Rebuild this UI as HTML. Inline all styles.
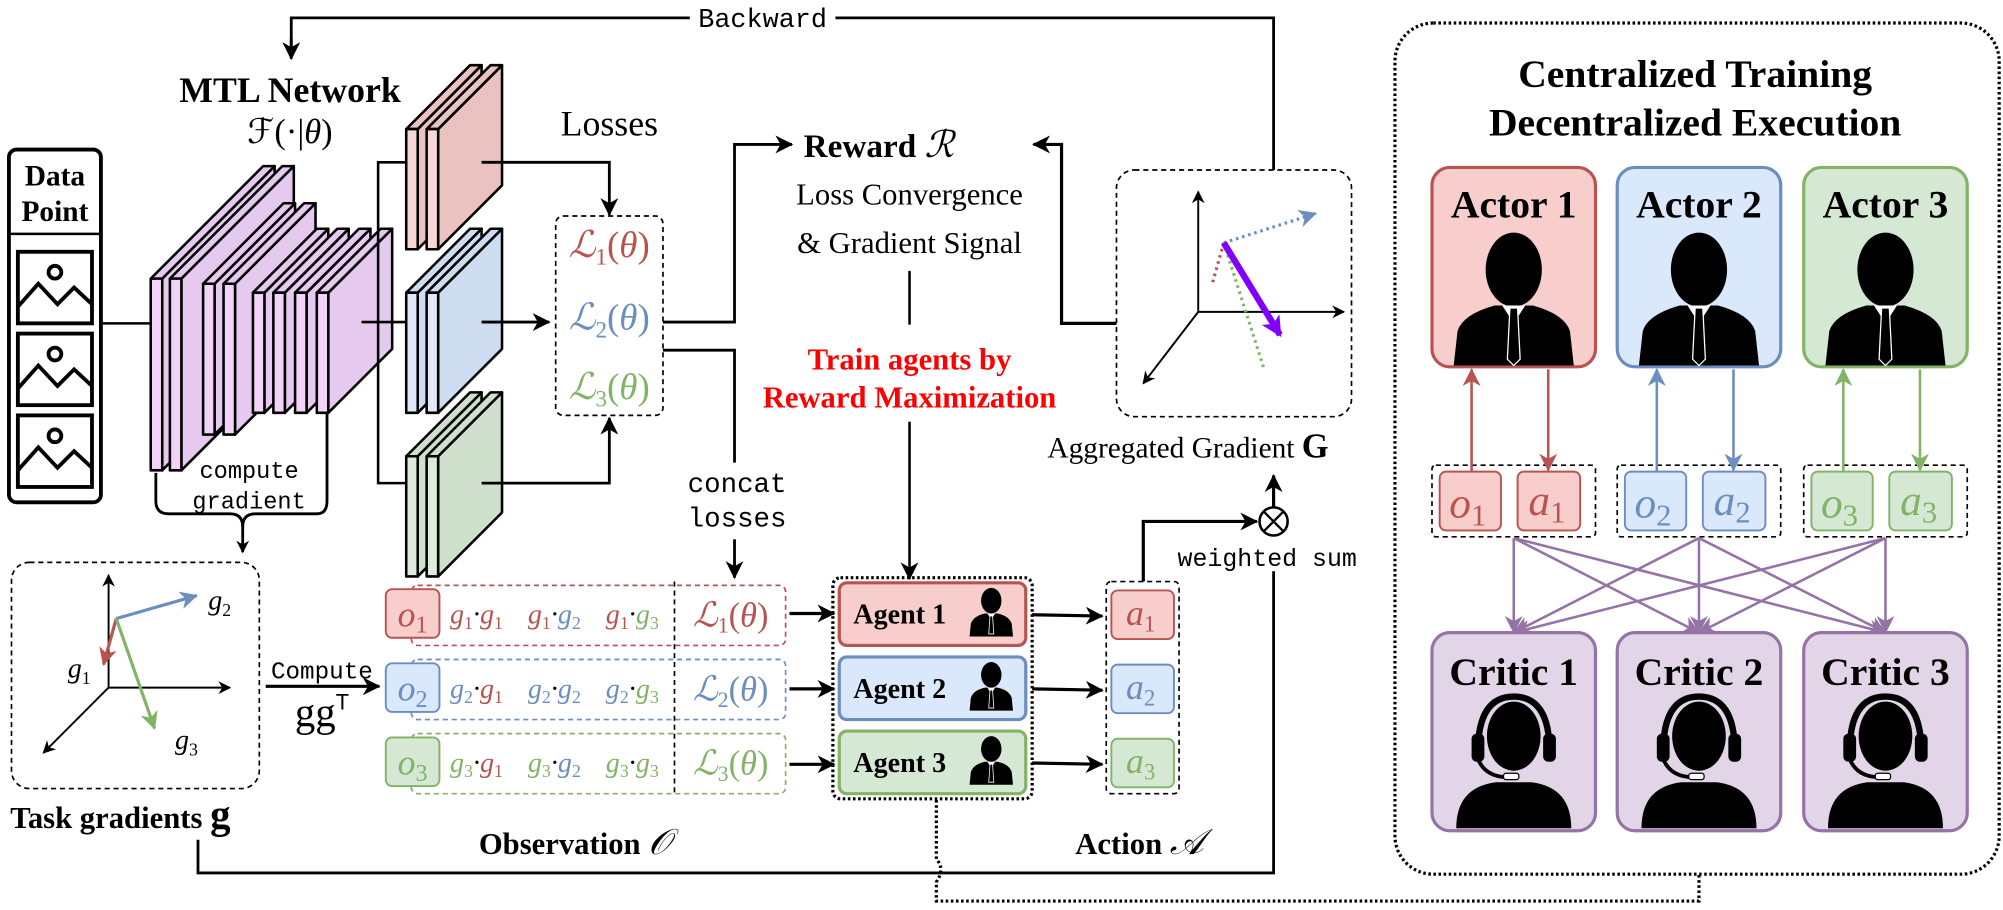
<!DOCTYPE html>
<html><head><meta charset="utf-8"><style>
html,body{margin:0;padding:0;background:#fff;}
svg{display:block;}
text{font-family:"Liberation Serif",serif;}
.m{font-family:"Liberation Mono",monospace;}
.b{font-weight:bold;}
</style></head><body>
<svg width="2003" height="910" viewBox="0 0 1568 712" preserveAspectRatio="none" xmlns="http://www.w3.org/2000/svg">
<defs>
<marker id="ak" markerWidth="10" markerHeight="10" refX="9" refY="5" orient="auto" markerUnits="userSpaceOnUse"><path d="M0,0 L10,5 L0,10 L3,5 Z" fill="#000"/></marker>
<marker id="ak2" markerWidth="14" markerHeight="14" refX="13" refY="7" orient="auto" markerUnits="userSpaceOnUse"><path d="M0,0 L14,7 L0,14 L4,7 Z" fill="#000"/></marker>
<marker id="ar" markerWidth="14" markerHeight="14" refX="13" refY="7" orient="auto" markerUnits="userSpaceOnUse"><path d="M0,0 L14,7 L0,14 L4,7 Z" fill="#b85450"/></marker>
<marker id="ab" markerWidth="14" markerHeight="14" refX="13" refY="7" orient="auto" markerUnits="userSpaceOnUse"><path d="M0,0 L14,7 L0,14 L4,7 Z" fill="#6c8ebf"/></marker>
<marker id="ag" markerWidth="14" markerHeight="14" refX="13" refY="7" orient="auto" markerUnits="userSpaceOnUse"><path d="M0,0 L14,7 L0,14 L4,7 Z" fill="#82b366"/></marker>
<marker id="ap" markerWidth="14" markerHeight="14" refX="13" refY="7" orient="auto" markerUnits="userSpaceOnUse"><path d="M0,0 L14,7 L0,14 L4,7 Z" fill="#9673a6"/></marker>
<marker id="av" markerWidth="16" markerHeight="16" refX="14" refY="8" orient="auto" markerUnits="userSpaceOnUse"><path d="M0,0 L16,8 L0,16 L4,8 Z" fill="#7f00ff"/></marker>
<g id="actor"><ellipse cx="0" cy="0" rx="22" ry="29" fill="#000"/><path d="M-47,75 L-44,48 Q-40,35 -15,28 L15,28 Q40,35 44,48 L47,75 Z" fill="#000"/><path d="M-9,28 L0,42 L9,28 Z" fill="#fff"/><path d="M-3,30 L3,30 L5,70 L0,75 L-5,70 Z" fill="#000" stroke="#fff" stroke-width="1"/></g>
<g id="critic"><path d="M-28,10 Q-28,-33 0,-33 Q28,-33 28,10" fill="none" stroke="#000" stroke-width="5"/><ellipse cx="0" cy="-2" rx="21" ry="27" fill="#000"/><rect x="-33" y="-4" width="10" height="22" rx="4" fill="#000"/><rect x="23" y="-4" width="10" height="22" rx="4" fill="#000"/><path d="M-28,16 Q-22,30 -5,30" fill="none" stroke="#000" stroke-width="3"/><rect x="-8" y="27" width="12" height="5" rx="2" fill="#fff" stroke="#000"/><path d="M-45,70 Q-45,38 -14,34 L14,34 Q45,38 45,70 Z" fill="#000"/></g>
<g id="sm"><ellipse cx="0" cy="0" rx="8" ry="10" fill="#000"/><path d="M-17,28 L-16,18 Q-14,12 -5,10 L5,10 Q14,12 16,18 L17,28 Z" fill="#000"/><path d="M-3,10 L0,15 L3,10 Z" fill="#fff"/><path d="M-1,12 L1,12 L2,26 L-2,26 Z" fill="#000" stroke="#fff" stroke-width="0.6"/></g>
</defs>

<!-- Backward loop -->
<polyline points="228,45 228,14 997,14 997,133" fill="none" stroke="#000" stroke-width="2.2"/>
<rect x="540" y="3" width="114" height="22" fill="#fff"/>
<text x="597" y="21" class="m" font-size="21" text-anchor="middle">Backward</text>
<polyline points="228,30 228,46" fill="none" stroke="#000" stroke-width="2.2" marker-end="url(#ak2)"/>

<text x="227" y="80" class="b" font-size="28" text-anchor="middle">MTL Network</text>
<text x="227" y="112" font-size="27" text-anchor="middle">ℱ(·|<tspan font-style="italic">θ</tspan>)</text>

<!-- Data point -->
<rect x="7" y="117" width="72" height="276" rx="6" fill="#fff" stroke="#000" stroke-width="3"/>
<line x1="7" y1="183" x2="79" y2="183" stroke="#000" stroke-width="2"/>
<text x="43" y="145" class="b" font-size="23" text-anchor="middle">Data</text>
<text x="43" y="173" class="b" font-size="23" text-anchor="middle">Point</text>
<g fill="none" stroke="#000" stroke-width="3">
<rect x="14" y="197" width="58" height="56"/><path d="M14,240 L30,222 L45,238 L58,225 L72,238"/><circle cx="43" cy="213" r="5"/>
<rect x="14" y="261" width="58" height="56"/><path d="M14,304 L30,286 L45,302 L58,289 L72,302"/><circle cx="43" cy="277" r="5"/>
<rect x="14" y="325" width="58" height="56"/><path d="M14,368 L30,350 L45,366 L58,353 L72,366"/><circle cx="43" cy="341" r="5"/>
</g>
<line x1="79" y1="253" x2="118" y2="253" stroke="#000" stroke-width="2"/>

<!-- Network slabs -->
<g stroke="#000" stroke-width="2" stroke-linejoin="round">
<g fill="#e6c9ee">
<polygon points="127,218 215,130 215,280 127,368"/><polygon points="118,218 206,130 215,130 127,218"/><rect x="118" y="218" width="9" height="150" fill="#f3d3f7"/>
<polygon points="142,218 230,130 230,280 142,368"/><polygon points="133,218 221,130 230,130 142,218"/><rect x="133" y="218" width="9" height="150" fill="#f3d3f7"/>
<polygon points="168,222 231,159 231,277 168,340"/><polygon points="159,222 222,159 231,159 168,222"/><rect x="159" y="222" width="9" height="118" fill="#f3d3f7"/>
<polygon points="184,222 247,159 247,277 184,340"/><polygon points="175,222 238,159 247,159 184,222"/><rect x="175" y="222" width="9" height="118" fill="#f3d3f7"/>
<polygon points="207,229 257,179 257,273 207,323"/><polygon points="198,229 248,179 257,179 207,229"/><rect x="198" y="229" width="9" height="94" fill="#f3d3f7"/>
<polygon points="223,229 273,179 273,273 223,323"/><polygon points="214,229 264,179 273,179 223,229"/><rect x="214" y="229" width="9" height="94" fill="#f3d3f7"/>
<polygon points="240,229 290,179 290,273 240,323"/><polygon points="231,229 281,179 290,179 240,229"/><rect x="231" y="229" width="9" height="94" fill="#f3d3f7"/>
<polygon points="257,229 307,179 307,273 257,323"/><polygon points="248,229 298,179 307,179 257,229"/><rect x="248" y="229" width="9" height="94" fill="#f3d3f7"/>
</g>
</g>
<!-- network to heads -->
<polyline points="283,252 296,252" fill="none" stroke="#000" stroke-width="2"/>
<polyline points="318,127 296,127 296,378 318,378" fill="none" stroke="#000" stroke-width="2"/>
<line x1="296" y1="252" x2="318" y2="252" stroke="#000" stroke-width="2"/>
<g stroke="#000" stroke-width="2" stroke-linejoin="round">
<g fill="#eac3c1">
<polygon points="327,101 377,51 377,145 327,195"/><polygon points="318,101 368,51 377,51 327,101"/><rect x="318" y="101" width="9" height="94" fill="#f5d7d5"/>
<polygon points="343,101 393,51 393,145 343,195"/><polygon points="334,101 384,51 393,51 343,101"/><rect x="334" y="101" width="9" height="94" fill="#f5d7d5"/>
</g>
<g fill="#cddcef">
<polygon points="327,229 377,179 377,273 327,323"/><polygon points="318,229 368,179 377,179 327,229"/><rect x="318" y="229" width="9" height="94" fill="#dfe9f8"/>
<polygon points="343,229 393,179 393,273 343,323"/><polygon points="334,229 384,179 393,179 343,229"/><rect x="334" y="229" width="9" height="94" fill="#dfe9f8"/>
</g>
<g fill="#cfe0cc">
<polygon points="327,357 377,307 377,401 327,451"/><polygon points="318,357 368,307 377,307 327,357"/><rect x="318" y="357" width="9" height="94" fill="#ddecda"/>
<polygon points="343,357 393,307 393,401 343,451"/><polygon points="334,357 384,307 393,307 343,357"/><rect x="334" y="357" width="9" height="94" fill="#ddecda"/>
</g>
</g>
<!-- heads to losses -->
<polyline points="377,127 477,127 477,168" fill="none" stroke="#000" stroke-width="2.2" marker-end="url(#ak2)"/>
<polyline points="377,252 430,252" fill="none" stroke="#000" stroke-width="2.2" marker-end="url(#ak2)"/>
<polyline points="377,378 477,378 477,327" fill="none" stroke="#000" stroke-width="2.2" marker-end="url(#ak2)"/>
<text x="477" y="106" font-size="28" text-anchor="middle">Losses</text>
<rect x="435" y="169" width="84" height="156" rx="6" fill="none" stroke="#000" stroke-width="1.3" stroke-dasharray="4,3"/>
<g font-size="29" font-style="italic" text-anchor="middle">
<text x="477" y="201" fill="#b85450">ℒ<tspan dy="6" font-size="18" font-style="normal">1</tspan><tspan dy="-6" font-style="normal">(</tspan>θ<tspan font-style="normal">)</tspan></text>
<text x="477" y="258" fill="#6c8ebf">ℒ<tspan dy="6" font-size="18" font-style="normal">2</tspan><tspan dy="-6" font-style="normal">(</tspan>θ<tspan font-style="normal">)</tspan></text>
<text x="477" y="312" fill="#82b366">ℒ<tspan dy="6" font-size="18" font-style="normal">3</tspan><tspan dy="-6" font-style="normal">(</tspan>θ<tspan font-style="normal">)</tspan></text>
</g>

<!-- compute gradient brace -->
<path d="M122,370 L122,392 Q122,402 132,402 L180,402 Q190,402 190,412 Q190,402 200,402 L248,402 Q256,402 256,392 L256,323" fill="none" stroke="#000" stroke-width="2.2"/>
<line x1="190" y1="410" x2="190" y2="432" stroke="#000" stroke-width="2.2" marker-end="url(#ak)"/>
<text x="195" y="374" class="m" font-size="18.5" text-anchor="middle">compute</text>
<text x="195" y="398" class="m" font-size="18.5" text-anchor="middle">gradient</text>

<!-- Task gradient box -->
<rect x="9" y="440" width="194" height="177" rx="14" fill="none" stroke="#000" stroke-width="1.3" stroke-dasharray="4,3"/>
<g stroke="#000" stroke-width="1.5" fill="none">
<line x1="85" y1="538" x2="85" y2="450" marker-end="url(#ak)"/>
<line x1="85" y1="538" x2="180" y2="538" marker-end="url(#ak)"/>
<line x1="85" y1="538" x2="34" y2="589" marker-end="url(#ak)"/>
</g>
<line x1="91" y1="484" x2="154" y2="466" stroke="#6c8ebf" stroke-width="2.5" marker-end="url(#ab)"/>
<line x1="91" y1="484" x2="81" y2="520" stroke="#b85450" stroke-width="2.5" marker-end="url(#ar)"/>
<line x1="91" y1="484" x2="121" y2="570" stroke="#82b366" stroke-width="2.5" marker-end="url(#ag)"/>
<g font-size="22" font-style="italic">
<text x="163" y="477">g<tspan dy="5" font-size="14" font-style="normal">2</tspan></text>
<text x="53" y="530">g<tspan dy="5" font-size="14" font-style="normal">1</tspan></text>
<text x="137" y="586">g<tspan dy="5" font-size="14" font-style="normal">3</tspan></text>
</g>
<text x="8" y="648" class="b" font-size="24">Task gradients <tspan font-size="32">g</tspan></text>
<polyline points="155,657 155,683 997,683 997,447" fill="none" stroke="#000" stroke-width="2.2"/>

<!-- Compute ggT -->
<text x="252" y="531" class="m" font-size="19" text-anchor="middle">Compute</text>
<line x1="208" y1="537" x2="297" y2="537" stroke="#000" stroke-width="2.5" marker-end="url(#ak2)"/>
<text x="252" y="568" font-size="32" text-anchor="middle">gg<tspan dy="-13" font-size="17" font-family="Liberation Sans">T</tspan></text>

<!-- Observation rows -->
<g fill="none" stroke-width="1.3" stroke-dasharray="4,3">
<rect x="322" y="458" width="293" height="47" rx="5" stroke="#b85450"/>
<rect x="322" y="516" width="293" height="47" rx="5" stroke="#6c8ebf"/>
<rect x="322" y="574" width="293" height="47" rx="5" stroke="#82b366"/>
<line x1="528" y1="455" x2="528" y2="622" stroke="#000"/>
</g>
<rect x="302" y="461" width="42" height="38" rx="5" fill="#f8cecc" stroke="#b85450" stroke-width="1.5"/>
<rect x="302" y="519" width="42" height="38" rx="5" fill="#dae8fc" stroke="#6c8ebf" stroke-width="1.5"/>
<rect x="302" y="577" width="42" height="38" rx="5" fill="#d5e8d4" stroke="#82b366" stroke-width="1.5"/>
<g font-size="28" font-style="italic" text-anchor="middle">
<text x="323" y="490" fill="#b85450">o<tspan dy="5" font-size="19" font-style="normal">1</tspan></text>
<text x="323" y="548" fill="#6c8ebf">o<tspan dy="5" font-size="19" font-style="normal">2</tspan></text>
<text x="323" y="606" fill="#82b366">o<tspan dy="5" font-size="19" font-style="normal">3</tspan></text>
</g>
<g font-size="22" font-style="italic" text-anchor="middle">
<text x="373" y="488"><tspan fill="#b85450">g<tspan font-size="14" font-style="normal" dy="4">1</tspan></tspan><tspan dy="-4">·</tspan><tspan fill="#b85450">g<tspan font-size="14" font-style="normal" dy="4">1</tspan></tspan></text>
<text x="434" y="488"><tspan fill="#b85450">g<tspan font-size="14" font-style="normal" dy="4">1</tspan></tspan><tspan dy="-4">·</tspan><tspan fill="#6c8ebf">g<tspan font-size="14" font-style="normal" dy="4">2</tspan></tspan></text>
<text x="495" y="488"><tspan fill="#b85450">g<tspan font-size="14" font-style="normal" dy="4">1</tspan></tspan><tspan dy="-4">·</tspan><tspan fill="#82b366">g<tspan font-size="14" font-style="normal" dy="4">3</tspan></tspan></text>
<text x="373" y="546"><tspan fill="#6c8ebf">g<tspan font-size="14" font-style="normal" dy="4">2</tspan></tspan><tspan dy="-4">·</tspan><tspan fill="#b85450">g<tspan font-size="14" font-style="normal" dy="4">1</tspan></tspan></text>
<text x="434" y="546"><tspan fill="#6c8ebf">g<tspan font-size="14" font-style="normal" dy="4">2</tspan></tspan><tspan dy="-4">·</tspan><tspan fill="#6c8ebf">g<tspan font-size="14" font-style="normal" dy="4">2</tspan></tspan></text>
<text x="495" y="546"><tspan fill="#6c8ebf">g<tspan font-size="14" font-style="normal" dy="4">2</tspan></tspan><tspan dy="-4">·</tspan><tspan fill="#82b366">g<tspan font-size="14" font-style="normal" dy="4">3</tspan></tspan></text>
<text x="373" y="604"><tspan fill="#82b366">g<tspan font-size="14" font-style="normal" dy="4">3</tspan></tspan><tspan dy="-4">·</tspan><tspan fill="#b85450">g<tspan font-size="14" font-style="normal" dy="4">1</tspan></tspan></text>
<text x="434" y="604"><tspan fill="#82b366">g<tspan font-size="14" font-style="normal" dy="4">3</tspan></tspan><tspan dy="-4">·</tspan><tspan fill="#6c8ebf">g<tspan font-size="14" font-style="normal" dy="4">2</tspan></tspan></text>
<text x="495" y="604"><tspan fill="#82b366">g<tspan font-size="14" font-style="normal" dy="4">3</tspan></tspan><tspan dy="-4">·</tspan><tspan fill="#82b366">g<tspan font-size="14" font-style="normal" dy="4">3</tspan></tspan></text>
</g>
<g font-size="27" font-style="italic" text-anchor="middle">
<text x="572" y="490" fill="#b85450">ℒ<tspan dy="5" font-size="17" font-style="normal">1</tspan><tspan dy="-5" font-style="normal">(</tspan>θ<tspan font-style="normal">)</tspan></text>
<text x="572" y="548" fill="#6c8ebf">ℒ<tspan dy="5" font-size="17" font-style="normal">2</tspan><tspan dy="-5" font-style="normal">(</tspan>θ<tspan font-style="normal">)</tspan></text>
<text x="572" y="606" fill="#82b366">ℒ<tspan dy="5" font-size="17" font-style="normal">3</tspan><tspan dy="-5" font-style="normal">(</tspan>θ<tspan font-style="normal">)</tspan></text>
</g>
<text x="450" y="668" class="b" font-size="24" text-anchor="middle">Observation <tspan font-weight="normal" font-style="italic" font-size="28">𝒪</tspan></text>

<!-- losses to reward / concat -->
<polyline points="519,252 575,252 575,113 620,113" fill="none" stroke="#000" stroke-width="2.2" marker-end="url(#ak2)"/>
<polyline points="519,274 575,274 575,362" fill="none" stroke="#000" stroke-width="2.2"/>
<text x="577" y="385" class="m" font-size="21.5" text-anchor="middle">concat</text>
<text x="577" y="412" class="m" font-size="21.5" text-anchor="middle">losses</text>
<line x1="575" y1="422" x2="575" y2="452" stroke="#000" stroke-width="2.2" marker-end="url(#ak2)"/>

<!-- Reward -->
<text x="688" y="123" class="b" font-size="26" text-anchor="middle">Reward <tspan font-weight="normal" font-style="italic" font-size="29">ℛ</tspan></text>
<text x="712" y="160" font-size="24" text-anchor="middle">Loss Convergence</text>
<text x="712" y="198" font-size="24" text-anchor="middle">&amp; Gradient Signal</text>
<line x1="712" y1="212" x2="712" y2="254" stroke="#000" stroke-width="2"/>
<text x="712" y="289" class="b" font-size="24" fill="#ff0000" text-anchor="middle">Train agents by</text>
<text x="712" y="319" class="b" font-size="24" fill="#ff0000" text-anchor="middle">Reward Maximization</text>
<line x1="712" y1="330" x2="712" y2="453" stroke="#000" stroke-width="2" marker-end="url(#ak2)"/>

<!-- Agents -->
<line x1="618" y1="480" x2="653" y2="480" stroke="#000" stroke-width="2.5" marker-end="url(#ak2)"/>
<line x1="618" y1="539" x2="653" y2="539" stroke="#000" stroke-width="2.5" marker-end="url(#ak2)"/>
<line x1="618" y1="598" x2="653" y2="598" stroke="#000" stroke-width="2.5" marker-end="url(#ak2)"/>
<rect x="652" y="452" width="156" height="173" rx="6" fill="none" stroke="#000" stroke-width="2.5" stroke-dasharray="2,2"/>
<rect x="657" y="456" width="146" height="49" rx="6" fill="#f8cecc" stroke="#b85450" stroke-width="2.5"/>
<rect x="657" y="514" width="146" height="49" rx="6" fill="#dae8fc" stroke="#6c8ebf" stroke-width="2.5"/>
<rect x="657" y="572" width="146" height="49" rx="6" fill="#d5e8d4" stroke="#82b366" stroke-width="2.5"/>
<g class="b" font-size="22"><text x="668" y="488">Agent 1</text><text x="668" y="546">Agent 2</text><text x="668" y="604">Agent 3</text></g>
<use href="#sm" x="776" y="470"/><use href="#sm" x="776" y="528"/><use href="#sm" x="776" y="586"/>
<line x1="808" y1="481" x2="863" y2="482" stroke="#000" stroke-width="2.5" marker-end="url(#ak2)"/>
<line x1="808" y1="539" x2="863" y2="540" stroke="#000" stroke-width="2.5" marker-end="url(#ak2)"/>
<line x1="808" y1="597" x2="863" y2="598" stroke="#000" stroke-width="2.5" marker-end="url(#ak2)"/>
<path d="M733,626 L733,672 Q740,680 733,690 L733,705 L1330,705 L1330,684" fill="none" stroke="#000" stroke-width="2.5" stroke-dasharray="2,2"/>

<!-- Action -->
<rect x="866" y="455" width="57" height="166" rx="4" fill="none" stroke="#000" stroke-width="1.3" stroke-dasharray="4,3"/>
<rect x="870" y="462" width="49" height="38" rx="5" fill="#f8cecc" stroke="#b85450" stroke-width="1.5"/>
<rect x="870" y="520" width="49" height="38" rx="5" fill="#dae8fc" stroke="#6c8ebf" stroke-width="1.5"/>
<rect x="870" y="578" width="49" height="38" rx="5" fill="#d5e8d4" stroke="#82b366" stroke-width="1.5"/>
<g font-size="28" font-style="italic" text-anchor="middle">
<text x="893" y="489" fill="#b85450">a<tspan dy="5" font-size="18" font-style="normal">1</tspan></text>
<text x="893" y="547" fill="#6c8ebf">a<tspan dy="5" font-size="18" font-style="normal">2</tspan></text>
<text x="893" y="605" fill="#82b366">a<tspan dy="5" font-size="18" font-style="normal">3</tspan></text>
</g>
<text x="892" y="668" class="b" font-size="24" text-anchor="middle">Action <tspan font-weight="normal" font-style="italic" font-size="28">𝒜</tspan></text>
<polyline points="895,455 895,408 984,408" fill="none" stroke="#000" stroke-width="2.5" marker-end="url(#ak2)"/>
<circle cx="997" cy="408" r="11" fill="#fff" stroke="#000" stroke-width="2"/>
<path d="M989,400 L1005,416 M1005,400 L989,416" stroke="#000" stroke-width="1.8"/>
<line x1="997" y1="397" x2="997" y2="372" stroke="#000" stroke-width="2.5" marker-end="url(#ak2)"/>
<text x="992" y="443" class="m" font-size="19.5" text-anchor="middle">weighted sum</text>

<!-- Aggregated gradient -->
<rect x="874" y="133" width="184" height="193" rx="14" fill="none" stroke="#000" stroke-width="1.3" stroke-dasharray="4,3"/>
<polyline points="874,253 831,253 831,113 809,113" fill="none" stroke="#000" stroke-width="2.5" marker-end="url(#ak2)"/>
<g stroke="#000" stroke-width="1.5" fill="none">
<line x1="938" y1="244" x2="938" y2="150" marker-end="url(#ak)"/>
<line x1="938" y1="244" x2="1052" y2="244" marker-end="url(#ak)"/>
<line x1="938" y1="244" x2="895" y2="300" marker-end="url(#ak)"/>
</g>
<line x1="958" y1="190" x2="1030" y2="167" stroke="#6c8ebf" stroke-width="2.5" stroke-dasharray="2,3" marker-end="url(#ab)"/>
<line x1="958" y1="190" x2="990" y2="290" stroke="#82b366" stroke-width="2.5" stroke-dasharray="2,3"/>
<line x1="958" y1="190" x2="949" y2="222" stroke="#b85450" stroke-width="2.5" stroke-dasharray="2,3"/>
<line x1="958" y1="190" x2="1002" y2="262" stroke="#7f00ff" stroke-width="5" marker-end="url(#av)"/>
<text x="930" y="358" font-size="23" text-anchor="middle">Aggregated Gradient <tspan class="b" font-size="27">G</tspan></text>

<!-- Right panel -->
<rect x="1092" y="18" width="473" height="666" rx="30" fill="none" stroke="#000" stroke-width="2.5" stroke-dasharray="2,2"/>
<text x="1327" y="68" class="b" font-size="31" text-anchor="middle">Centralized Training</text>
<text x="1327" y="106" class="b" font-size="31" text-anchor="middle">Decentralized Execution</text>

<rect x="1121" y="131" width="128" height="156" rx="14" fill="#f8cecc" stroke="#b85450" stroke-width="2.5"/>
<rect x="1266" y="131" width="128" height="156" rx="14" fill="#dae8fc" stroke="#6c8ebf" stroke-width="2.5"/>
<rect x="1412" y="131" width="128" height="156" rx="14" fill="#d5e8d4" stroke="#82b366" stroke-width="2.5"/>
<g class="b" font-size="31" text-anchor="middle"><text x="1185" y="170">Actor 1</text><text x="1330" y="170">Actor 2</text><text x="1476" y="170">Actor 3</text></g>
<use href="#actor" x="1185" y="211"/><use href="#actor" x="1330" y="211"/><use href="#actor" x="1476" y="211"/>

<g fill="none" stroke="#000" stroke-width="1.3" stroke-dasharray="4,3">
<rect x="1121" y="364" width="128" height="56" rx="3"/><rect x="1266" y="364" width="128" height="56" rx="3"/><rect x="1412" y="364" width="128" height="56" rx="3"/>
</g>
<g stroke-width="1.5">
<rect x="1127" y="369" width="48" height="46" rx="5" fill="#f8cecc" stroke="#b85450"/><rect x="1188" y="369" width="49" height="46" rx="5" fill="#f8cecc" stroke="#b85450"/>
<rect x="1272" y="369" width="48" height="46" rx="5" fill="#dae8fc" stroke="#6c8ebf"/><rect x="1333" y="369" width="49" height="46" rx="5" fill="#dae8fc" stroke="#6c8ebf"/>
<rect x="1418" y="369" width="48" height="46" rx="5" fill="#d5e8d4" stroke="#82b366"/><rect x="1479" y="369" width="49" height="46" rx="5" fill="#d5e8d4" stroke="#82b366"/>
</g>
<g font-size="34" font-style="italic" text-anchor="middle">
<text x="1149" y="405" fill="#b85450">o<tspan dy="6" font-size="24" font-style="normal">1</tspan></text>
<text x="1211" y="403" fill="#b85450">a<tspan dy="6" font-size="24" font-style="normal">1</tspan></text>
<text x="1294" y="405" fill="#6c8ebf">o<tspan dy="6" font-size="24" font-style="normal">2</tspan></text>
<text x="1356" y="403" fill="#6c8ebf">a<tspan dy="6" font-size="24" font-style="normal">2</tspan></text>
<text x="1440" y="405" fill="#82b366">o<tspan dy="6" font-size="24" font-style="normal">3</tspan></text>
<text x="1502" y="403" fill="#82b366">a<tspan dy="6" font-size="24" font-style="normal">3</tspan></text>
</g>
<g stroke-width="2">
<line x1="1152" y1="369" x2="1152" y2="289" stroke="#b85450" marker-end="url(#ar)"/>
<line x1="1212" y1="289" x2="1212" y2="368" stroke="#b85450" marker-end="url(#ar)"/>
<line x1="1297" y1="369" x2="1297" y2="289" stroke="#6c8ebf" marker-end="url(#ab)"/>
<line x1="1357" y1="289" x2="1357" y2="368" stroke="#6c8ebf" marker-end="url(#ab)"/>
<line x1="1443" y1="369" x2="1443" y2="289" stroke="#82b366" marker-end="url(#ag)"/>
<line x1="1503" y1="289" x2="1503" y2="368" stroke="#82b366" marker-end="url(#ag)"/>
</g>
<g stroke="#9673a6" stroke-width="2" marker-end="url(#ap)">
<line x1="1185" y1="421" x2="1185" y2="495"/><line x1="1185" y1="421" x2="1330" y2="495"/><line x1="1185" y1="421" x2="1476" y2="495"/>
<line x1="1330" y1="421" x2="1185" y2="495"/><line x1="1330" y1="421" x2="1330" y2="495"/><line x1="1330" y1="421" x2="1476" y2="495"/>
<line x1="1476" y1="421" x2="1185" y2="495"/><line x1="1476" y1="421" x2="1330" y2="495"/><line x1="1476" y1="421" x2="1476" y2="495"/>
</g>
<rect x="1121" y="495" width="128" height="155" rx="14" fill="#e1d5e7" stroke="#9673a6" stroke-width="2.5"/>
<rect x="1266" y="495" width="128" height="155" rx="14" fill="#e1d5e7" stroke="#9673a6" stroke-width="2.5"/>
<rect x="1412" y="495" width="128" height="155" rx="14" fill="#e1d5e7" stroke="#9673a6" stroke-width="2.5"/>
<g class="b" font-size="31" text-anchor="middle"><text x="1185" y="536">Critic 1</text><text x="1330" y="536">Critic 2</text><text x="1476" y="536">Critic 3</text></g>
<use href="#critic" x="1185" y="578"/><use href="#critic" x="1330" y="578"/><use href="#critic" x="1476" y="578"/>
</svg>
</body></html>
